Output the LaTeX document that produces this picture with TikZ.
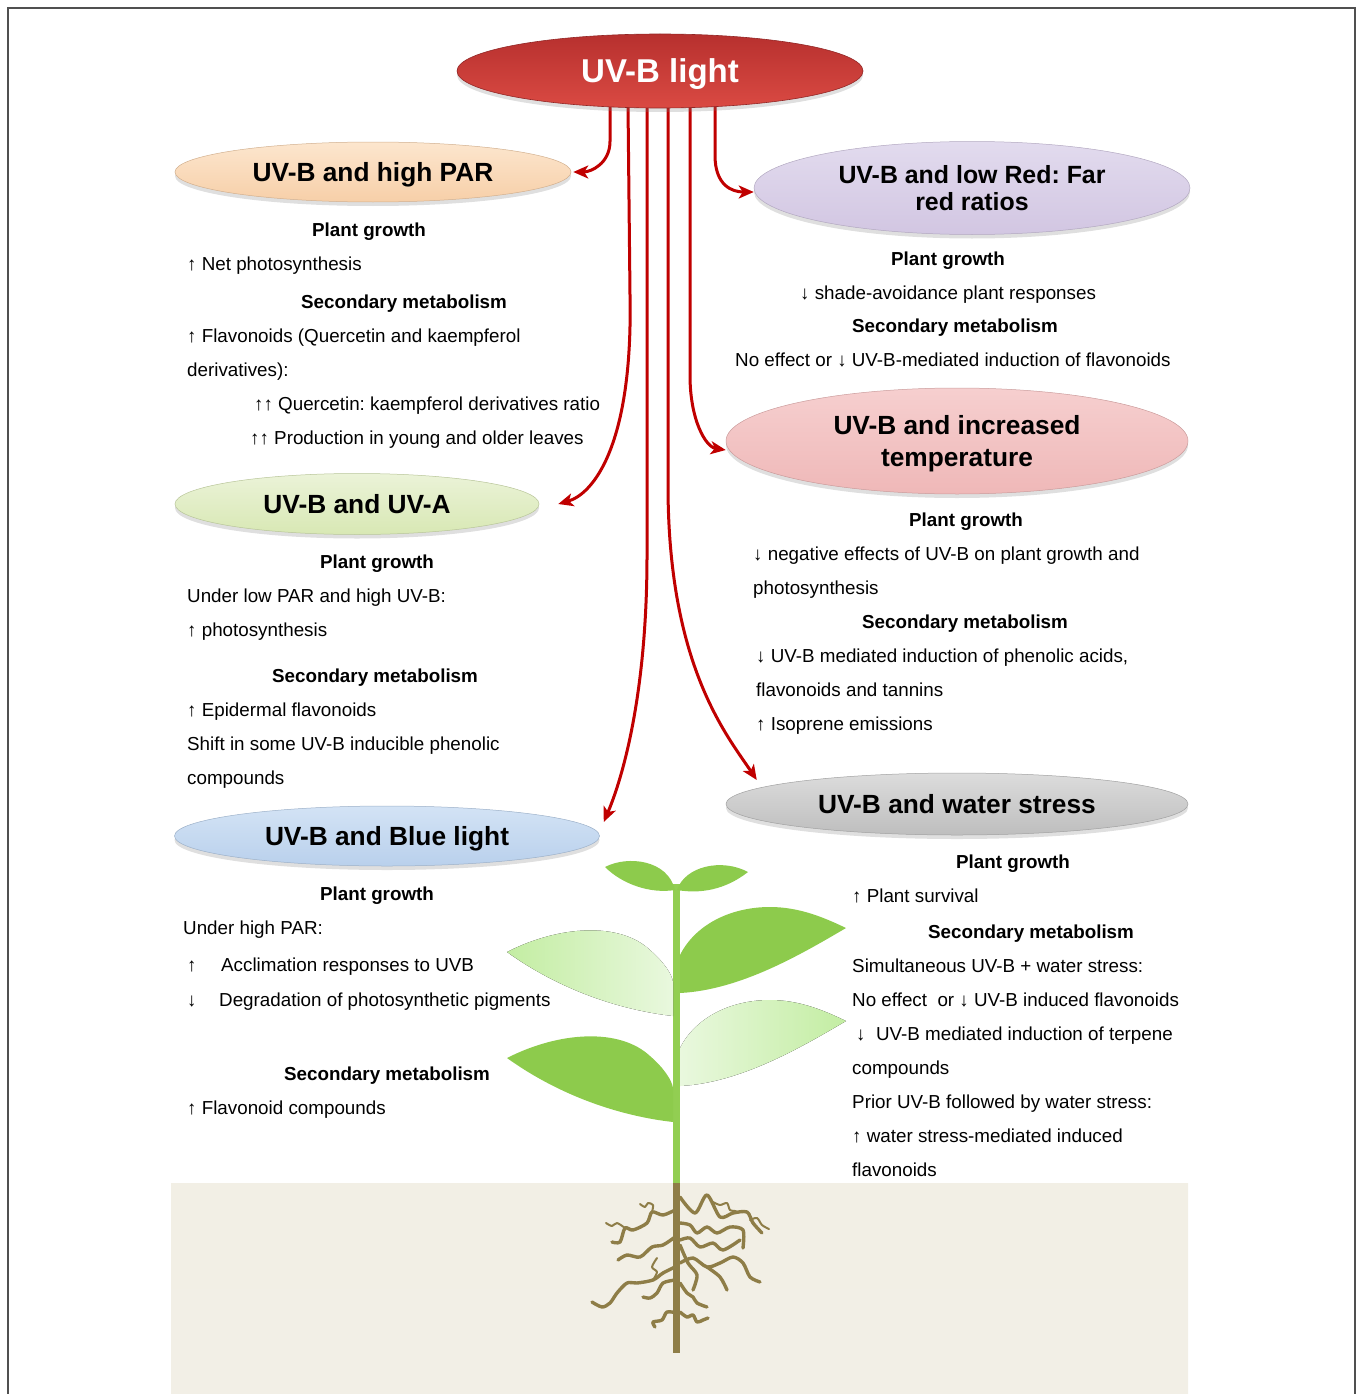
\documentclass[tikz,border=0pt]{standalone}
\usepackage{fontspec}
\setmainfont{Liberation Sans}
\usetikzlibrary{shapes.geometric,arrows.meta,shadows,backgrounds}
\frenchspacing

\definecolor{raycolor}{HTML}{C00000}
\definecolor{framegray}{HTML}{505050}
\definecolor{uvbtop}{HTML}{B7302E}
\definecolor{uvbbot}{HTML}{DA4A43}
\definecolor{partop}{HTML}{FCE6CE}
\definecolor{parbot}{HTML}{F7CFA8}
\definecolor{redtop}{HTML}{E2DBEE}
\definecolor{redbot}{HTML}{D2C6E2}
\definecolor{temptop}{HTML}{F6CFCF}
\definecolor{tempbot}{HTML}{EFB8B8}
\definecolor{uvatop}{HTML}{EBF3D8}
\definecolor{uvabot}{HTML}{D8E8B4}
\definecolor{bluetop}{HTML}{D3E3F5}
\definecolor{bluebot}{HTML}{B9D0EC}
\definecolor{watertop}{HTML}{DCDCDC}
\definecolor{waterbot}{HTML}{BEBEBE}
\definecolor{soiltop}{HTML}{F2EFE5}
\definecolor{soilmid}{HTML}{EAE4D2}
\definecolor{soilbot}{HTML}{F2EFE6}
\definecolor{leafdark}{HTML}{8DCB4C}
\definecolor{leafpale}{HTML}{E9F8DE}
\definecolor{leaflight}{HTML}{C3EDA2}
\definecolor{stemgreen}{HTML}{92CE52}
\definecolor{rootcolor}{HTML}{8E7D47}

\newcommand{\bodytext}[4]{
\node[bodyline] (#1) at (#2, #3) {#4};
}
\newcommand{\headtext}[4]{
\node[headline] (#1) at (#2, #3) {#4};
}

\tikzset{
  ovalnode/.style={ellipse, inner sep=0pt, text depth=0pt, align=center,
    font=\fontsize{26.3}{32}\selectfont\bfseries,
    drop shadow={opacity=0.25, shadow xshift=0pt, shadow yshift=-4pt}},
  bodyline/.style={anchor=base west, inner sep=0pt, font=\fontsize{18.8}{22}\selectfont},
  headline/.style={anchor=base, inner sep=0pt, font=\fontsize{18.8}{22}\selectfont\bfseries},
  rayarrow/.style={draw=raycolor, line width=3pt, -{Stealth[length=15pt,width=13pt,inset=4pt]}},
  rootline/.style={draw=rootcolor, line width=3.4pt, line cap=round, line join=round},
  twigline/.style={draw=rootcolor, line width=2pt, line cap=round, line join=round},
}

\begin{document}
\begin{tikzpicture}[x=1pt, y=-1pt]
\useasboundingbox (0,0) rectangle (1360,1394);
\draw[framegray, line width=2pt] (8,8) rectangle (1355,1410);

\fill[top color=soiltop, middle color=soilmid, bottom color=soilbot] (171,1183) rectangle (1188,1394);

\fill[stemgreen] (673,884) rectangle (680,1184);
\fill[rootcolor] (673,1183) rectangle (680,1353);

\fill[left color=leaflight, right color=leafpale]
(507,952) .. controls (560,925) and (620,922) .. (650,950)
.. controls (665,963) and (672,975) .. (673,982) -- (673,1016)
.. controls (620,1010) and (560,990) .. (507,952) -- cycle;
\fill[leafdark]
(680,993) -- (680,955) .. controls (695,925) and (730,907) .. (770,907)
.. controls (800,907) and (825,918) .. (846,928)
.. controls (800,955) and (740,990) .. (680,993) -- cycle;
\fill[left color=leafpale, right color=leaflight]
(680,1086) -- (680,1048) .. controls (695,1018) and (730,1000) .. (770,1000)
.. controls (800,1000) and (825,1011) .. (846,1021)
.. controls (800,1048) and (740,1083) .. (680,1086) -- cycle;
\fill[leafdark]
(507,1058) .. controls (560,1031) and (620,1028) .. (650,1056)
.. controls (665,1069) and (672,1081) .. (673,1088) -- (673,1122)
.. controls (620,1116) and (560,1096) .. (507,1058) -- cycle;
\fill[leafdark] (605,867) .. controls (628,855) and (668,860) .. (675,890)
.. controls (650,894) and (622,884) .. (605,867) -- cycle;
\fill[leafdark] (677,890) .. controls (685,866) and (722,858) .. (748,872)
.. controls (725,890) and (700,894) .. (677,890) -- cycle;

\draw[rootline] plot[smooth] coordinates {(680,1197) (695,1213) (707,1195) (720,1217) (733,1213) (747,1212) (753,1223) (762,1233)};
\draw[twigline] plot[smooth] coordinates {(713,1202) (720,1205) (727,1203) (730,1210) (736,1211)};
\draw[twigline] plot[smooth] coordinates {(750,1220) (757,1218) (762,1225) (769,1229)};
\draw[rootline] plot[smooth] coordinates {(675,1210) (663,1215) (652,1212) (647,1223) (633,1230) (625,1228) (620,1242) (612,1242)};
\draw[twigline] plot[smooth] coordinates {(652,1212) (653,1205) (648,1203) (645,1207) (640,1204)};
\draw[twigline] plot[smooth] coordinates {(625,1228) (617,1223) (612,1226) (606,1223)};
\draw[rootline] plot[smooth] coordinates {(680,1223) (690,1225) (697,1233) (707,1227) (717,1233) (730,1227) (743,1230) (743,1248)};
\draw[rootline] plot[smooth] coordinates {(675,1237) (663,1245) (652,1247) (640,1257) (627,1255) (618,1260)};
\draw[rootline] plot[smooth] coordinates {(680,1240) (690,1238) (700,1247) (713,1243) (723,1250) (740,1240)};
\draw[rootline] plot[smooth] coordinates {(680,1263) (693,1258) (707,1267) (720,1263) (733,1257) (743,1263) (750,1277) (760,1282)};
\draw[rootline] plot[smooth] coordinates {(707,1267) (720,1277) (727,1290)};
\draw[rootline] plot[smooth] coordinates {(680,1245) (688,1263) (697,1275) (693,1290)};
\draw[rootline] plot[smooth] coordinates {(675,1267) (663,1273) (653,1280) (637,1283) (627,1283) (617,1293) (610,1303) (602,1307) (592,1302)};
\draw[twigline] plot[smooth] coordinates {(657,1258) (652,1267) (657,1272) (653,1280)};
\draw[rootline] plot[smooth] coordinates {(675,1280) (663,1283) (657,1293) (650,1298) (643,1297)};
\draw[rootline] plot[smooth] coordinates {(680,1283) (687,1293) (693,1297) (697,1303) (707,1307)};
\draw[rootline] plot[smooth] coordinates {(677,1313) (667,1312) (662,1320) (653,1322) (655,1327)};
\draw[rootline] plot[smooth] coordinates {(680,1312) (687,1317) (693,1315) (697,1322) (703,1320) (708,1318)};

\node[ovalnode, top color=uvbtop, bottom color=uvbbot, draw=uvbtop!80!black, line width=0.6pt,
  minimum width=406pt, minimum height=74pt, text=white, font=\fontsize{33}{38}\selectfont\bfseries]
  (uvb) at (660,71) {UV-B light};
\node[ovalnode, top color=partop, bottom color=parbot, draw=parbot!85!black, line width=0.5pt,
  minimum width=396pt, minimum height=60pt] (par) at (373,172) {UV-B and high PAR};
\node[ovalnode, top color=redtop, bottom color=redbot, draw=redbot!85!black, line width=0.5pt,
  minimum width=436pt, minimum height=93pt, font=\fontsize{24.9}{27}\selectfont\bfseries]
  (lowred) at (972,188) {UV-B and low Red: Far\\red ratios};
\node[ovalnode, top color=temptop, bottom color=tempbot, draw=tempbot!85!black, line width=0.5pt,
  minimum width=462pt, minimum height=106pt] (temp) at (957,441) {UV-B and increased\\temperature};
\node[ovalnode, top color=uvatop, bottom color=uvabot, draw=uvabot!85!black, line width=0.5pt,
  minimum width=364pt, minimum height=61pt] (uva) at (357,504) {UV-B and UV-A};
\node[ovalnode, top color=bluetop, bottom color=bluebot, draw=bluebot!85!black, line width=0.5pt,
  minimum width=425pt, minimum height=60pt] (blue) at (387,836) {UV-B and Blue light};
\node[ovalnode, top color=watertop, bottom color=waterbot, draw=waterbot!85!black, line width=0.5pt,
  minimum width=462pt, minimum height=62pt] (water) at (957,804) {UV-B and water stress};

\begin{pgfonlayer}{background}
\draw[rayarrow] ([xshift=-50pt,yshift=3pt]uvb.south) -- ++(0,36)
  .. controls +(0,22) and +(18,0) .. ([xshift=2pt]par.east);
\draw[rayarrow] ([xshift=-32pt,yshift=3pt]uvb.south) -- ++(2,190)
  .. controls +(3,150) and +(35,-10) .. ([xshift=19pt]uva.east);
\draw[rayarrow] ([xshift=-13pt,yshift=3pt]uvb.south) -- ++(0,450)
  .. controls +(0,150) and +(15,-35) .. ([xshift=4pt,yshift=14pt]blue.east);
\draw[rayarrow] ([xshift=8pt,yshift=3pt]uvb.south) -- ++(0,380)
  .. controls +(0,180) and +(-30,-45) .. ([xshift=31pt,yshift=24pt]water.west);
\draw[rayarrow] ([xshift=30pt,yshift=3pt]uvb.south) -- ++(0,270)
  .. controls +(0,45) and +(-20,-3) .. ([yshift=-9pt]temp.west);
\draw[rayarrow] ([xshift=55pt,yshift=3pt]uvb.south) -- ++(0,50)
  .. controls +(0,30) and +(-22,0) .. ([yshift=-4pt]lowred.west);
\end{pgfonlayer}

\headtext{pargrowth}{369}{236}{Plant growth}
\bodytext{par1}{187}{270}{↑ Net photosynthesis}
\headtext{parsec}{404}{308}{Secondary metabolism}
\bodytext{par2}{187}{342}{↑ Flavonoids (Quercetin and kaempferol}
\bodytext{par3}{187}{376}{derivatives):}
\bodytext{par4}{254}{410}{↑↑ Quercetin: kaempferol derivatives ratio}
\bodytext{par5}{250}{444}{↑↑ Production in young and older leaves}

\headtext{redgrowth}{948}{265}{Plant growth}
\bodytext{red1}{800}{299}{↓ shade-avoidance plant responses}
\headtext{redsec}{955}{332}{Secondary metabolism}
\bodytext{red2}{735}{366}{No effect or ↓ UV-B-mediated induction of flavonoids}

\headtext{tempgrowth}{966}{526}{Plant growth}
\bodytext{temp1}{753}{560}{↓ negative effects of UV-B on plant growth and}
\bodytext{temp2}{753}{594}{photosynthesis}
\headtext{tempsec}{965}{628}{Secondary metabolism}
\bodytext{temp3}{756}{662}{↓ UV-B mediated induction of phenolic acids,}
\bodytext{temp4}{756}{696}{flavonoids and tannins}
\bodytext{temp5}{756}{730}{↑ Isoprene emissions}

\headtext{uvagrowth}{377}{568}{Plant growth}
\bodytext{uva1}{187}{602}{Under low PAR and high UV-B:}
\bodytext{uva2}{187}{636}{↑ photosynthesis}
\headtext{uvasec}{375}{682}{Secondary metabolism}
\bodytext{uva3}{187}{716}{↑ Epidermal flavonoids}
\bodytext{uva4}{187}{750}{Shift in some UV-B inducible phenolic}
\bodytext{uva5}{187}{784}{compounds}

\headtext{bluegrowth}{377}{900}{Plant growth}
\bodytext{blue1}{183}{934}{Under high PAR:}
\bodytext{blue2}{187}{971}{\makebox[34pt][l]{↑}Acclimation responses to UVB}
\bodytext{blue3}{187}{1006}{\makebox[32pt][l]{↓}Degradation of photosynthetic pigments}
\headtext{bluesec}{387}{1080}{Secondary metabolism}
\bodytext{blue4}{187}{1114}{↑ Flavonoid compounds}

\headtext{watergrowth}{1013}{868}{Plant growth}
\bodytext{water1}{852}{902}{↑ Plant survival}
\headtext{watersec}{1031}{938}{Secondary metabolism}
\bodytext{water2}{852}{972}{Simultaneous UV-B + water stress:}
\bodytext{water3}{852}{1006}{No effect\ \ or ↓ UV-B induced flavonoids}
\bodytext{water4}{856}{1040}{↓\ \ UV-B mediated induction of terpene}
\bodytext{water5}{852}{1074}{compounds}
\bodytext{water6}{852}{1108}{Prior UV-B followed by water stress:}
\bodytext{water7}{852}{1142}{↑ water stress-mediated induced}
\bodytext{water8}{852}{1176}{flavonoids}

\end{tikzpicture}
\end{document}
